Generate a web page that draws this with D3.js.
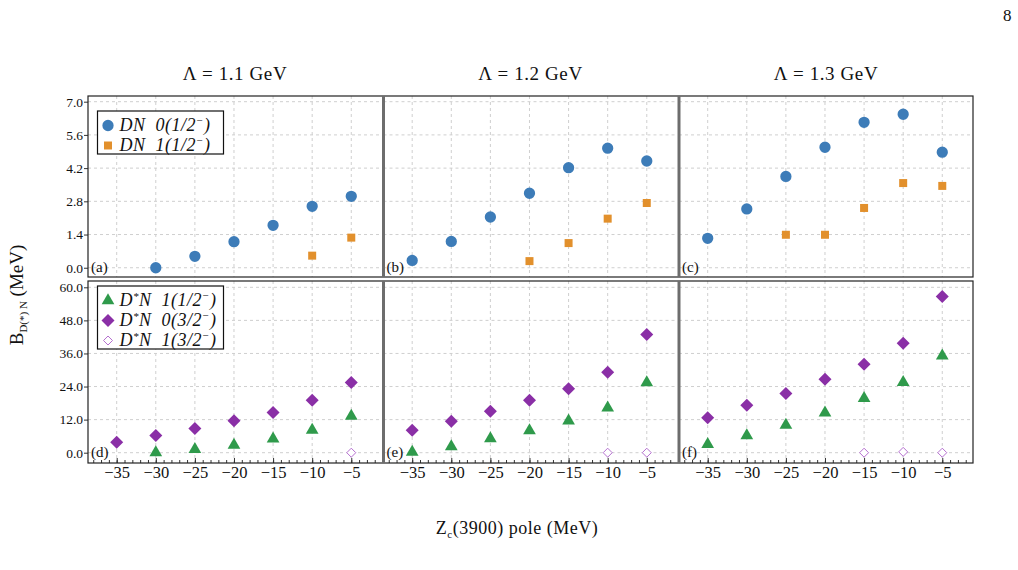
<!DOCTYPE html>
<html>
<head>
<meta charset="utf-8">
<script src="https://cdn.jsdelivr.net/npm/d3@7"></script>
<style>
  html, body { margin: 0; padding: 0; background: #fff; }
  svg text { font-family: "Liberation Serif", "DejaVu Serif", serif; fill: #111; }
  .leg text { white-space: pre; }
</style>
</head>
<body>
<svg id="chart" width="1018" height="570"></svg>
<script>
// Binding energies vs Zc(3900) pole, three cutoffs
const poles = [-35, -30, -25, -20, -15, -10, -5];
const lambdaTitles = ['Λ = 1.1 GeV', 'Λ = 1.2 GeV', 'Λ = 1.3 GeV'];
const panelTags = [['(a)', '(b)', '(c)'], ['(d)', '(e)', '(f)']];
const topTicks = [0, 1.4, 2.8, 4.2, 5.6, 7.0];
const bottomTicks = [0, 12, 24, 36, 48, 60];

// DN 0(1/2-) and DN 1(1/2-), one row per cutoff
const dn0 = [
  [null, 0.0, 0.48, 1.10, 1.79, 2.59, 3.01],
  [0.31, 1.11, 2.14, 3.14, 4.22, 5.04, 4.50],
  [1.24, 2.48, 3.85, 5.08, 6.13, 6.47, 4.87]
];
const dn1 = [
  [null, null, null, null, null, 0.51, 1.27],
  [null, null, null, 0.28, 1.04, 2.07, 2.73],
  [null, null, 1.39, 1.39, 2.52, 3.57, 3.45]
];
// D*N 1(1/2-), 0(3/2-), 1(3/2-)
const dsn1Half = [
  [null, 0.0, 1.2, 2.8, 5.0, 8.2, 13.3],
  [0.25, 2.2, 5.1, 8.0, 11.6, 16.3, 25.4],
  [3.0, 6.2, 10.0, 14.5, 19.7, 25.5, 35.1]
];
const dsn0ThreeHalf = [
  [3.8, 6.2, 8.8, 11.6, 14.6, 19.0, 25.5],
  [8.1, 11.4, 15.0, 19.0, 23.2, 29.2, 42.9],
  [12.7, 17.2, 21.5, 26.6, 32.1, 39.7, 56.7]
];
const dsn1ThreeHalf = [
  [null, null, null, null, null, null, 0.0],
  [null, null, null, null, null, 0.0, 0.0],
  [null, null, null, null, 0.0, 0.3, 0.0]
];

const svg = d3.select('#chart');
const blue = '#3d7cb8', orange = '#e2902c', green = '#2f9a4b', purple = '#8a2fa6', lightPurple = '#b56fd0';

const rowTop = [96, 281], rowBot = [277, 463];
const panelLeft = [88, 383.5, 679], panelW = 294;
const xDomain = [-38.67, -1.07];
const yDomains = [[-0.39, 7.24], [-3.74, 62.29]];
const yTickSets = [topTicks, bottomTicks];

function diamondPath(h) { return `M0,${-h}L${h},0L0,${h}L${-h},0Z`; }

const rows = [
  [
    { data: dn0, label: ['DN', '', '  0(1/2'], path: d3.symbol(d3.symbolCircle, 100)(), fill: blue, stroke: 'none' },
    { data: dn1, label: ['DN', '', '  1(1/2'], path: d3.symbol(d3.symbolSquare, 64)(), fill: orange, stroke: 'none' }
  ],
  [
    { data: dsn1Half, label: ['D', '*', 'N  1(1/2'], path: d3.symbol(d3.symbolTriangle, 70)(), fill: green, stroke: 'none' },
    { data: dsn0ThreeHalf, label: ['D', '*', 'N  0(3/2'], path: diamondPath(6.5), fill: purple, stroke: 'none' },
    { data: dsn1ThreeHalf, label: ['D', '*', 'N  1(3/2'], path: diamondPath(4.5), fill: '#fff', stroke: lightPurple }
  ]
];

// column titles
lambdaTitles.forEach((t, c) => {
  svg.append('text').attr('x', panelLeft[c] + panelW / 2).attr('y', 80)
    .attr('text-anchor', 'middle').style('font-size', '19px').style('letter-spacing', '0.6px').text(t);
});

rows.forEach((series, r) => {
  const yDom = yDomains[r];
  for (let c = 0; c < 3; c++) {
    const left = panelLeft[c];
    const x = d3.scaleLinear().domain(xDomain).range([left, left + panelW]);
    const y = d3.scaleLinear().domain(yDom).range([rowBot[r], rowTop[r]]);
    const g = svg.append('g');

    // dashed grid
    g.selectAll('.gx').data(poles).enter().append('line')
      .attr('x1', d => x(d)).attr('x2', d => x(d))
      .attr('y1', rowTop[r]).attr('y2', rowBot[r])
      .attr('stroke', '#cfcfcf').attr('stroke-dasharray', '3,3');
    g.selectAll('.gy').data(yTickSets[r]).enter().append('line')
      .attr('x1', left).attr('x2', left + panelW)
      .attr('y1', d => y(d)).attr('y2', d => y(d))
      .attr('stroke', '#cfcfcf').attr('stroke-dasharray', '3,3');

    // y axis on the left column only
    if (c === 0) {
      const ax = g.append('g').attr('transform', `translate(${left},0)`)
        .call(d3.axisLeft(y).tickValues(yTickSets[r]).tickSize(4).tickPadding(1).tickFormat(d3.format('.1f')));
      ax.select('.domain').remove();
      ax.selectAll('text').style('font-size', '13.5px');
      ax.selectAll('line').attr('stroke', '#333');
    }

    // x axis on the bottom row
    if (r === 1) {
      const minor = g.append('g').attr('transform', `translate(0,${rowBot[r]})`)
        .call(d3.axisBottom(x).tickValues(d3.range(-38, -1)).tickSizeInner(-3).tickSizeOuter(0).tickFormat(''));
      minor.select('.domain').remove();
      minor.selectAll('line').attr('stroke', '#333');
      const major = g.append('g').attr('transform', `translate(0,${rowBot[r]})`)
        .call(d3.axisBottom(x).tickValues(poles).tickSizeInner(-5).tickSizeOuter(0).tickPadding(3).tickFormat(d3.format('d')));
      major.select('.domain').remove();
      major.selectAll('line').attr('stroke', '#333');
      major.selectAll('text').style('font-size', '16.5px');
    }

    // panel tag
    g.append('text').attr('x', left + 3).attr('y', y(0) + 4.5)
      .style('font-size', '15px').text(panelTags[r][c]);

    // markers
    series.forEach(s => {
      const pts = poles.map((p, i) => ({ p, v: s.data[c][i] })).filter(d => d.v !== null);
      g.selectAll(null).data(pts).enter().append('path')
        .attr('d', s.path)
        .attr('transform', d => `translate(${x(d.p)},${y(d.v)})`)
        .attr('fill', s.fill).attr('stroke', s.stroke).attr('stroke-width', 1);
    });
  }

  // row frame and gray dividers between panels
  svg.append('rect').attr('x', panelLeft[0]).attr('y', rowTop[r])
    .attr('width', panelLeft[2] + panelW - panelLeft[0]).attr('height', rowBot[r] - rowTop[r])
    .attr('fill', 'none').attr('stroke', '#222').attr('stroke-width', 1.2);
  [panelLeft[1], panelLeft[2]].forEach(bx => {
    svg.append('line').attr('x1', bx).attr('x2', bx).attr('y1', rowTop[r]).attr('y2', rowBot[r])
      .attr('stroke', '#6d6d6d').attr('stroke-width', 3);
  });

  // legend
  const lg = svg.append('g').attr('class', 'leg');
  const lx = 97.5, ly = rowTop[r] + (r === 0 ? 15 : 5);
  const lh = series.length * 20 + 3;
  lg.append('rect').attr('x', lx).attr('y', ly).attr('width', 126).attr('height', lh)
    .attr('fill', '#fff').attr('stroke', '#111').attr('stroke-width', 1.2);
  series.forEach((s, i) => {
    const cy = ly + 13.5 + i * 20;
    lg.append('path').attr('d', s.path).attr('transform', `translate(${lx + 10.5},${cy + 1})`)
      .attr('fill', s.fill).attr('stroke', s.stroke);
    const t = lg.append('text').attr('x', lx + 22).attr('y', cy + 6)
      .style('font-size', '18px').style('font-style', 'italic').style('letter-spacing', '0.5px');
    t.append('tspan').text(s.label[0]);
    if (s.label[1]) t.append('tspan').attr('dy', -6).style('font-size', '11px').text(s.label[1]);
    t.append('tspan').attr('dy', s.label[1] ? 6 : 0).text(s.label[2]);
    t.append('tspan').attr('dy', -7).style('font-size', '11px').text('−');
    t.append('tspan').attr('dy', 7).text(')');
  });
});

// axis titles
const yl = svg.append('text').attr('transform', 'translate(23,295) rotate(-90)')
  .attr('text-anchor', 'middle').style('font-size', '19px');
yl.append('tspan').text('B');
yl.append('tspan').attr('dy', 4).style('font-size', '11px').text('D(*) N');
yl.append('tspan').attr('dy', -4).text(' (MeV)');

const xl = svg.append('text').attr('x', 517).attr('y', 534)
  .attr('text-anchor', 'middle').style('font-size', '18px').style('letter-spacing', '0.5px');
xl.append('tspan').text('Z');
xl.append('tspan').attr('dy', 4).style('font-size', '11px').text('c');
xl.append('tspan').attr('dy', -4).text('(3900) pole (MeV)');

// page number
svg.append('text').attr('x', 1003).attr('y', 21).style('font-size', '17px').text('8');
</script>
</body>
</html>
